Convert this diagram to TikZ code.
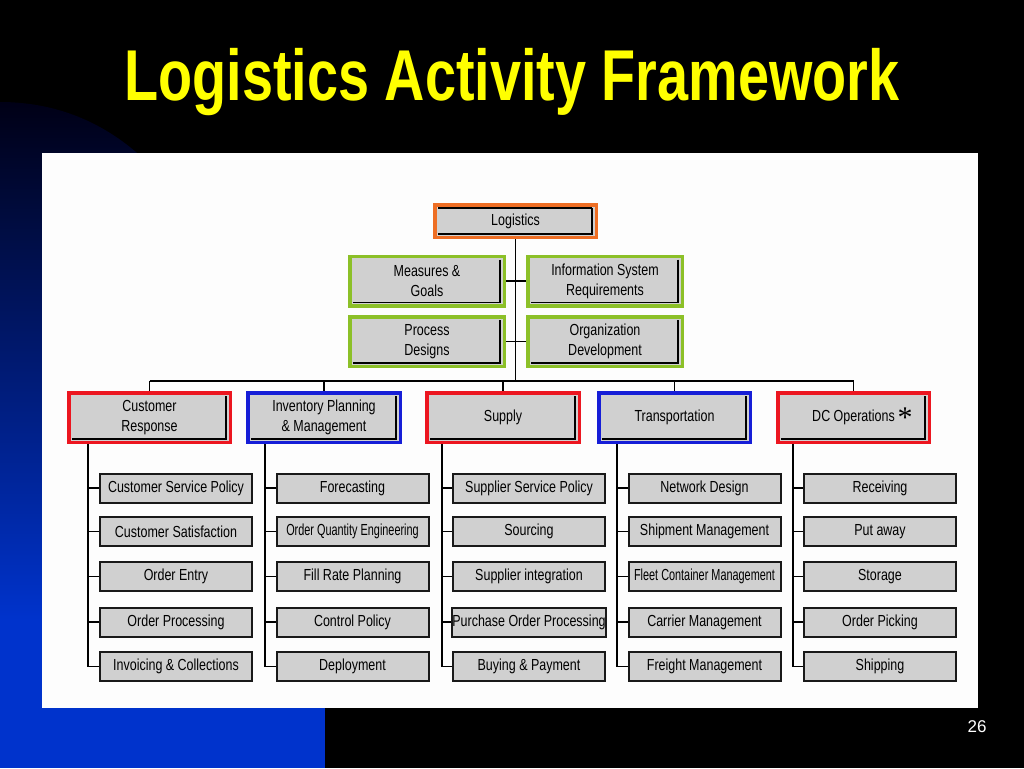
\documentclass[tikz,border=0pt]{standalone}
\usepackage{fontspec}
\setmainfont{Liberation Sans}
\newfontfamily\boxfont{Liberation Sans}[FakeStretch=0.78]
\newfontfamily\narrowfont{Liberation Sans}[FakeStretch=0.68]
\newfontfamily\titlefont{Liberation Sans}[FakeStretch=0.775]
\newfontfamily\astfont{Liberation Serif}
\usetikzlibrary{calc}
\definecolor{navyT}{RGB}{0,0,22}
\definecolor{blueB}{RGB}{0,51,204}
\definecolor{panel}{RGB}{253,253,253}
\definecolor{boxgray}{RGB}{208,208,208}
\definecolor{orangeC}{RGB}{238,110,36}
\definecolor{greenC}{RGB}{140,192,40}
\definecolor{redC}{RGB}{236,22,32}
\definecolor{blueC}{RGB}{22,30,215}
\definecolor{titleY}{RGB}{255,255,0}
\begin{document}
\begin{tikzpicture}[x=1pt,y=-1pt,
  leaf/.style={draw=black!90, line width=2pt, fill=boxgray, minimum width=152pt,
    minimum height=29pt, inner sep=0pt, font=\boxfont\fontsize{16}{17}\selectfont},
  headbox/.style={line width=3.5pt, fill=boxgray, inner sep=0pt, align=center,
    font=\boxfont\fontsize{16}{20}\selectfont},
  link/.style={draw=black, line width=1.8pt},
  titletext/.style={text=titleY, anchor=base, inner sep=0pt,
    font=\titlefont\bfseries\fontsize{72}{80}\selectfont},
  pagenum/.style={text=white, inner sep=0pt, font=\fontsize{17}{20}\selectfont}
]
\fill[black] (0,0) rectangle (1024,768);
\useasboundingbox (0,0) rectangle (1024,768);
% blue backdrop
\shade[top color=navyT, bottom color=blueB] (0,620) -- (0,102)
  .. controls (60,102) and (110,125) .. (150,165) -- (325,400) -- (325,620) -- cycle;
\fill[blueB] (0,619) rectangle (325,768);
% white panel
\fill[panel] (42,153) rectangle (978,708);

\node[titletext] (title) at (512,100) {Logistics Activity Framework};
\node[pagenum] (pg) at (977,727) {26};

% top boxes
\node[headbox, draw=orangeC, minimum width=161.5pt, minimum height=32.5pt] (log) at (515.5,221) {Logistics};
\node[headbox, draw=greenC, minimum width=154.5pt, minimum height=49.5pt] (mg) at (427,281) {Measures \&\\Goals};
\node[headbox, draw=greenC, minimum width=154.5pt, minimum height=49.5pt] (isr) at (605,281) {Information System\\Requirements};
\node[headbox, draw=greenC, minimum width=154.5pt, minimum height=49.5pt] (pd) at (427,341.5) {Process\\Designs};
\node[headbox, draw=greenC, minimum width=154.5pt, minimum height=49.5pt] (od) at (605,341.5) {Organization\\Development};

% level-2 boxes
\node[headbox, draw=redC, minimum width=161.5pt, minimum height=49.5pt] (cr) at (149.5,417.5) {Customer\\Response};
\node[headbox, draw=blueC, minimum width=152.5pt, minimum height=49.5pt] (inv) at (324,417.5) {Inventory Planning\\\& Management};
\node[headbox, draw=redC, minimum width=152.5pt, minimum height=49.5pt] (sup) at (503,417.5) {Supply};
\node[headbox, draw=blueC, minimum width=151.5pt, minimum height=49.5pt] (tra) at (674.5,417.5) {Transportation};
\node[headbox, draw=redC, minimum width=151.5pt, minimum height=49.5pt] (dc) at (853.5,417.5) {DC Operations};
\node[font=\astfont\fontsize{30}{30}\selectfont, inner sep=0pt] (ast) at (905,418) {*};

% inner original box edges
\draw[line width=1.2pt] ($(log.north west)+(5,5)$) -- ($(log.north east)+(-6,5)$);
\foreach \n in {log,mg,isr,pd,od,cr,inv,sup,tra,dc}
  \draw[line width=1.4pt] ($(\n.north east)+(-6,5)$) -- ($(\n.south east)+(-6,-5)$) -- ($(\n.south west)+(5,-5)$);

% leaves
\foreach \x/\c in {176/1,352.5/2,529/3,704.5/4,880/5}
  \foreach \y/\r in {488/1,531.5/2,576.5/3,622/4,666.5/5}
    \coordinate (p\c\r) at (\x,\y);
\node[leaf] (c11) at (p11) {Customer Service Policy};
\node[leaf] (c12) at (p12) {Customer Satisfaction};
\node[leaf] (c13) at (p13) {Order Entry};
\node[leaf] (c14) at (p14) {Order Processing};
\node[leaf] (c15) at (p15) {Invoicing \& Collections};
\node[leaf] (c21) at (p21) {Forecasting};
\node[leaf] (c22) at (p22) {\narrowfont Order Quantity Engineering};
\node[leaf] (c23) at (p23) {Fill Rate Planning};
\node[leaf] (c24) at (p24) {Control Policy};
\node[leaf] (c25) at (p25) {Deployment};
\node[leaf] (c31) at (p31) {Supplier Service Policy};
\node[leaf] (c32) at (p32) {Sourcing};
\node[leaf] (c33) at (p33) {Supplier integration};
\node[leaf] (c34) at (p34) {Purchase Order Processing};
\node[leaf] (c35) at (p35) {Buying \& Payment};
\node[leaf] (c41) at (p41) {Network Design};
\node[leaf] (c42) at (p42) {Shipment Management};
\node[leaf] (c43) at (p43) {\narrowfont Fleet Container Management};
\node[leaf] (c44) at (p44) {Carrier Management};
\node[leaf] (c45) at (p45) {Freight Management};
\node[leaf] (c51) at (p51) {Receiving};
\node[leaf] (c52) at (p52) {Put away};
\node[leaf] (c53) at (p53) {Storage};
\node[leaf] (c54) at (p54) {Order Picking};
\node[leaf] (c55) at (p55) {Shipping};

% connectors: trunk and bus
\coordinate (bus) at (515,381);
\draw[link] (log.south) -- (log.south |- bus);
\draw[link] (mg.east) -- (isr.west);
\draw[link] (pd.east) -- (od.west);
\draw[link] (cr.north |- bus) -- (dc.north |- bus);
\foreach \n in {cr,inv,sup,tra,dc}
  \draw[link] (\n.north |- bus) -- (\n.north);

% column spines
\coordinate (k1) at (88,444);
\coordinate (k2) at (265,444);
\coordinate (k3) at (442,444);
\coordinate (k4) at (617,444);
\coordinate (k5) at (793,444);
\foreach \c in {1,...,5}{
  \draw[link] (k\c) |- (c\c5.west);
  \foreach \r in {1,...,4}
    \draw[link] (k\c |- c\c\r.west) -- (c\c\r.west);
}
\end{tikzpicture}
\end{document}
